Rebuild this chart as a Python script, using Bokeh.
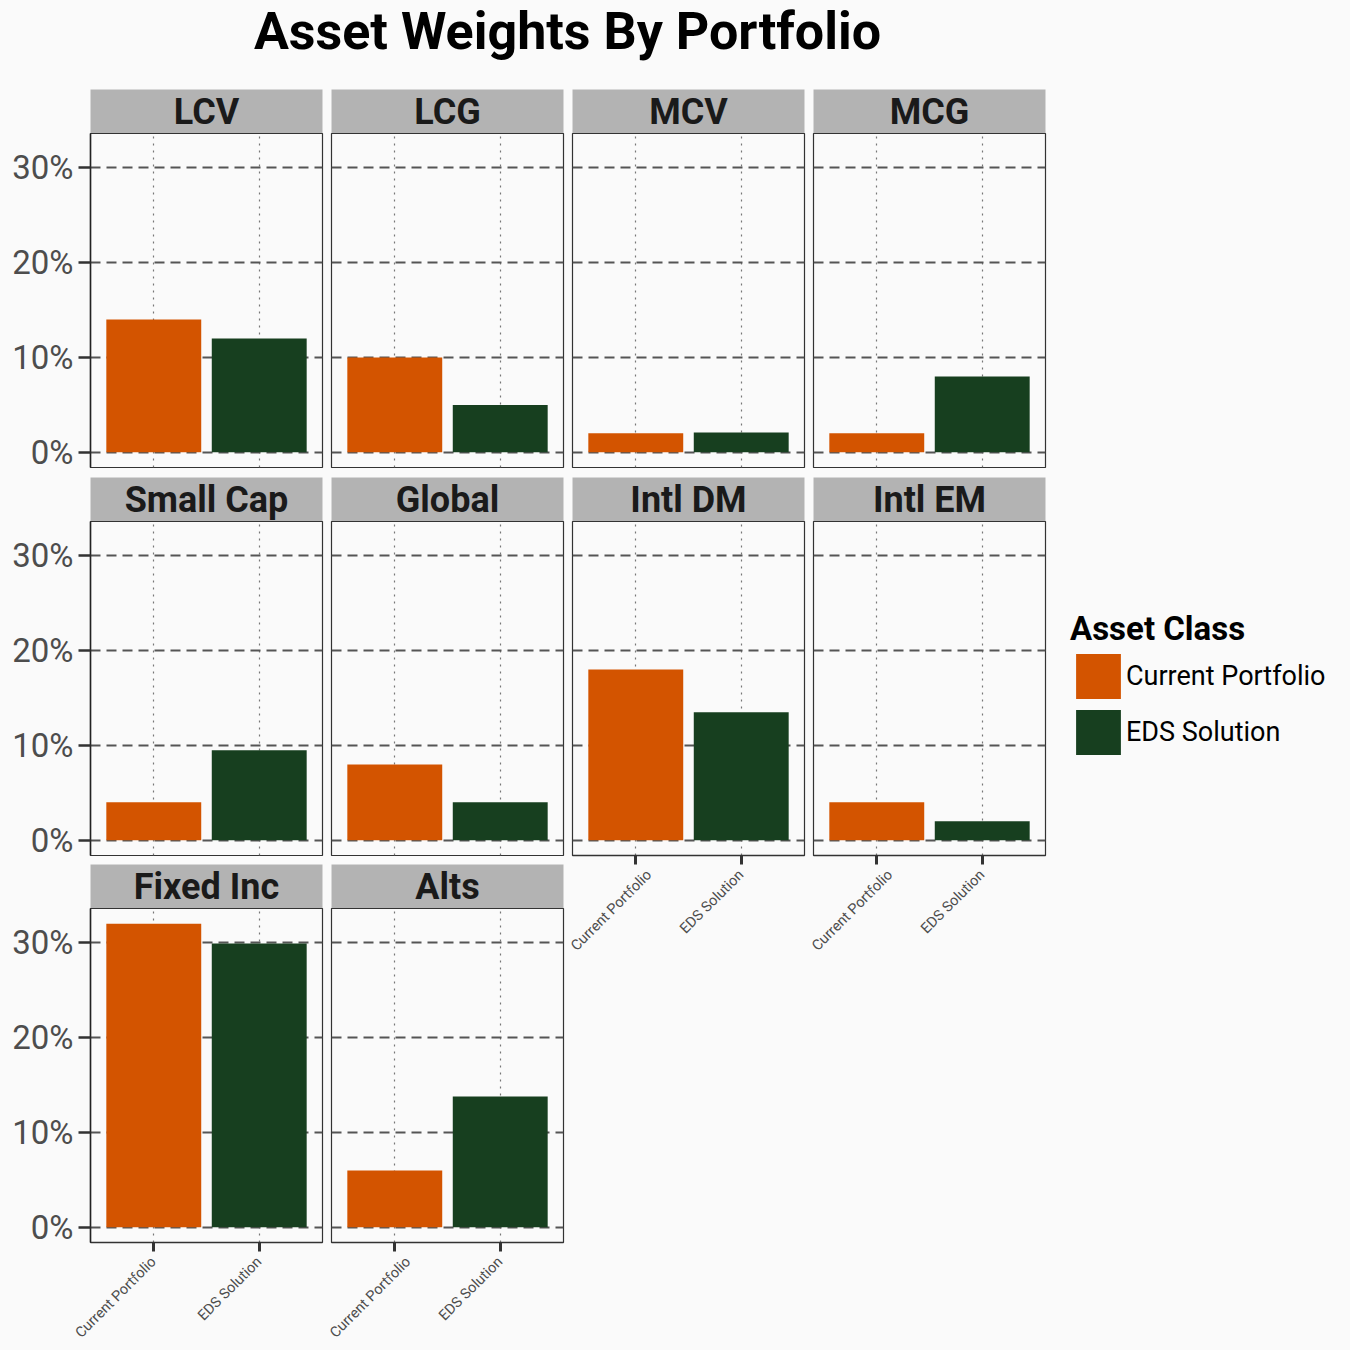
import math
from bokeh.plotting import figure
from bokeh.models import (ColumnDataSource, FactorRange, Range1d, FixedTicker,
                          PrintfTickFormatter, Label, Legend, LegendItem)
from bokeh.layouts import column, row
from bokeh.embed import file_html
from bokeh.resources import INLINE

# ---------------- data ----------------
panels = ["LCV", "LCG", "MCV", "MCG", "Small Cap", "Global", "Intl DM", "Intl EM", "Fixed Inc", "Alts"]
categories = ["Current Portfolio", "EDS Solution"]
current = [14, 10, 2, 2, 4, 8, 18, 4, 32, 6]
eds = [12, 5, 2.1, 8, 9.5, 4, 13.5, 2, 29.9, 13.8]
y_ticks = [0, 10, 20, 30]
colors = ["#D35400", "#173F1F"]
legend_title = "Asset Class"
title_text = "Asset Weights By Portfolio"

# ---------------- style ----------------
BG = "#FAFAFA"
FONT = "Roboto"
STRIP = "#B3B3B3"
NCOL = 4
FW, FH, SH = 232, 334, 44
LEFT0 = 90
TOTAL_W = 1346
LEGEND_PANEL = 7  # panel whose figure hosts the legend (Intl EM, right-most column)


def borders(c):
    return (LEFT0 if c == 0 else 5), 4


def strip_fig(name, c):
    bl, br = borders(c)
    s = figure(frame_width=FW, frame_height=SH, x_range=Range1d(0, 1), y_range=Range1d(0, 1),
               x_axis_location=None, y_axis_location=None, toolbar_location=None,
               output_backend="svg", min_border=0, min_border_left=bl, min_border_right=br,
               background_fill_color=STRIP, border_fill_color=BG, outline_line_color=None)
    s.xgrid.visible = False
    s.ygrid.visible = False
    s.add_layout(Label(x=0.5, y=0.48, text=name, text_align="center", text_baseline="middle",
                       text_font=FONT, text_font_size="36px", text_font_style="bold",
                       text_color="#1A1A1A"))
    return s


def panel_fig(i, c, bottom, bottom_border, right_border=None):
    bl, br = borders(c)
    if right_border is not None:
        br = right_border
    p = figure(frame_width=FW, frame_height=FH,
               x_range=FactorRange(*categories, range_padding=0.1, range_padding_units="absolute"),
               y_range=Range1d(-1.6, 33.6),
               x_axis_location="below" if bottom else None,
               y_axis_location="left" if c == 0 else None,
               toolbar_location=None, output_backend="svg",
               min_border=0, min_border_left=bl, min_border_right=br,
               min_border_top=0, min_border_bottom=bottom_border,
               background_fill_color=BG, border_fill_color=BG,
               outline_line_color="#333333", outline_line_width=1.2)
    src = ColumnDataSource(dict(cat=categories, val=[current[i], eds[i]], color=colors))
    r = p.vbar(x="cat", top="val", bottom=0, width=0.9, source=src, fill_color="color",
               line_color=None)
    p.ygrid.ticker = FixedTicker(ticks=y_ticks)
    p.ygrid.grid_line_color = "#555555"
    p.ygrid.grid_line_width = 1.8
    p.ygrid.grid_line_dash = "10 6"
    p.xgrid.grid_line_color = "#777777"
    p.xgrid.grid_line_width = 1.2
    p.xgrid.grid_line_dash = "2 5"
    if c == 0:
        ax = p.yaxis[0]
        ax.ticker = FixedTicker(ticks=y_ticks)
        ax.formatter = PrintfTickFormatter(format="%d%%")
        ax.major_label_text_font = FONT
        ax.major_label_text_font_size = "33px"
        ax.major_label_text_color = "#4D4D4D"
        ax.major_label_standoff = 5
        ax.major_tick_out = 12
        ax.major_tick_in = 0
        ax.major_tick_line_width = 2.5
        ax.major_tick_line_color = "#333333"
        ax.minor_tick_line_color = None
        ax.axis_line_color = "#222222"
        ax.axis_line_width = 1.5
    if bottom:
        ax = p.xaxis[0]
        ax.major_label_orientation = math.pi / 4
        ax.major_label_text_font = FONT
        ax.major_label_text_font_size = "14.5px"
        ax.major_label_text_color = "#4D4D4D"
        ax.major_label_standoff = 8
        ax.major_tick_out = 9
        ax.major_tick_in = 0
        ax.major_tick_line_width = 3
        ax.major_tick_line_color = "#333333"
        ax.axis_line_color = "#333333"
        ax.axis_line_width = 1.5
    return p, r


cols_w = (LEFT0 + FW + 4) + (NCOL - 1) * (5 + FW + 4)

cols = []
for c in range(NCOL):
    idx = [i for i in range(len(panels)) if i % NCOL == c]
    kids = []
    for k, i in enumerate(idx):
        bottom = (k == len(idx) - 1)
        rr = i // NCOL
        bb = 100 if bottom else (10 if rr == 0 else 9)
        kids.append(strip_fig(panels[i], c))
        if i == LEGEND_PANEL:
            extra = TOTAL_W - cols_w + 4
            p, r = panel_fig(i, c, bottom, bb, right_border=extra)
            items = [LegendItem(label=cat, renderers=[r], index=n) for n, cat in enumerate(categories)]
            leg = Legend(items=items, title=legend_title, location=(25, 95),
                         title_text_font=FONT, title_text_font_size="33px",
                         title_text_font_style="bold", title_text_color="#000000",
                         title_standoff=0,
                         label_text_font=FONT, label_text_font_size="27px",
                         label_text_color="#000000",
                         glyph_width=56, glyph_height=56, label_height=56, label_standoff=0,
                         spacing=0, padding=0, margin=0, background_fill_alpha=0,
                         border_line_color=None)
            p.add_layout(leg, "right")
        else:
            p, r = panel_fig(i, c, bottom, bb)
        kids.append(p)
    cols.append(column(*kids, spacing=0))

# title figure
TH = 89
tf = figure(width=TOTAL_W, height=TH, x_range=Range1d(0, TOTAL_W), y_range=Range1d(0, TH),
            x_axis_location=None, y_axis_location=None, toolbar_location=None,
            output_backend="svg", min_border=0, background_fill_color=BG,
            border_fill_color=BG, outline_line_color=None)
tf.xgrid.visible = False
tf.ygrid.visible = False
tf.add_layout(Label(x=567, y=TH - 31, text=title_text, text_align="center", text_baseline="middle",
                    text_font=FONT, text_font_size="52px", text_font_style="bold",
                    text_color="#000000"))

layout = column(tf, row(*cols, spacing=0), spacing=0)

html = file_html(layout, INLINE, title="Asset Weights By Portfolio")
html = html.replace("</head>", "<style>html, body { background-color: #FAFAFA; }</style></head>", 1)
open("out.html", "w").write(html)
